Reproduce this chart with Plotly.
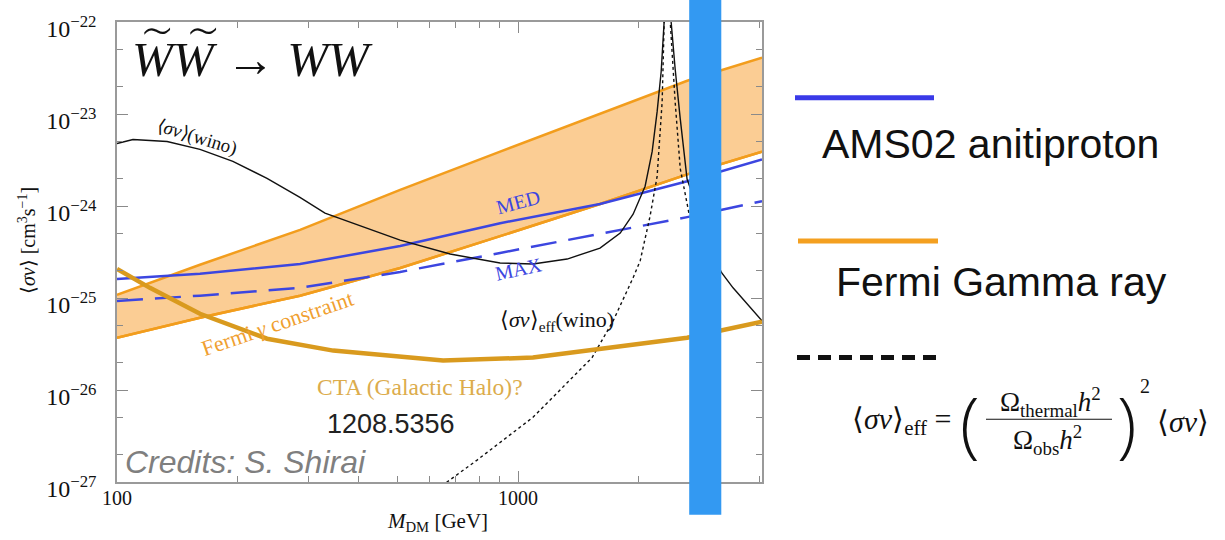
import plotly.graph_objects as go

# ---------------- data ----------------
mass_band = [100, 161, 286, 508, 902, 1600, 2640, 4055]
fermi_upper = [1.08e-25, 2.3e-25, 5.5e-25, 1.5e-24, 3.9e-24, 1.0e-23, 2.3e-23, 4.1e-23]
fermi_lower = [3.7e-26, 6.1e-26, 1.06e-25, 2.12e-25, 4.7e-25, 1.05e-24, 2.21e-24, 3.9e-24]

mass_ams = [100, 161, 286, 508, 902, 1600, 2640, 4055]
ams_med = [1.61e-25, 1.83e-25, 2.34e-25, 3.67e-25, 6.5e-25, 1.05e-24, 1.86e-24, 3.2e-24]
ams_max = [9.3e-26, 1.06e-25, 1.29e-25, 1.92e-25, 3.09e-25, 4.95e-25, 7.57e-25, 1.13e-24]

mass_wino = [100, 109.6, 133.3, 161, 194.5, 236.6, 285.8, 330, 508, 676.7, 901.6, 1089,
             1325, 1600, 1797, 1935, 2073, 2159, 2221, 2273, 2312, 2359, 2407, 2463,
             2536, 2638, 3206, 3434, 4055]
sigv_wino = [4.78e-24, 5.28e-24, 5.02e-24, 4.12e-24, 3.05e-24, 2.0e-24, 1.24e-24, 8.35e-25,
             4.26e-25, 3.01e-25, 2.40e-25, 2.34e-25, 2.65e-25, 3.49e-25, 5.08e-25, 8.15e-25,
             1.64e-24, 3.92e-24, 1.06e-23, 2.88e-23, 1.0e-22, 3.0e-21, 1.0e-22, 3.1e-23,
             8.9e-24, 1.95e-24, 1.92e-25, 1.29e-25, 5.66e-26]

mass_eff = [603, 665, 790, 1089, 1529, 1726, 1935, 2015, 2133, 2221, 2286, 2327, 2359,
            2395, 2463, 2536, 2669]
sigv_eff = [6.4e-28, 1.0e-27, 1.73e-27, 5.05e-27, 2.25e-26, 5.66e-26, 1.66e-25, 2.53e-25,
            7.76e-25, 2.1e-24, 1.36e-23, 1.0e-22, 3.0e-21, 1.0e-22, 1.36e-23, 2.56e-24, 8.15e-25]

mass_cta = [100, 120.8, 161, 214.8, 236.6, 346, 508, 650, 1089, 1600, 2638, 4055]
sigv_cta = [2.07e-25, 1.29e-25, 6.74e-26, 4.2e-26, 3.61e-26, 2.68e-26, 2.31e-26, 2.09e-26,
            2.25e-26, 2.82e-26, 3.7e-26, 5.52e-26]

wino_thermal_band = [2670, 3210]

x_tickvals = [100, 1000]
x_ticktext = ["100", "1000"]
x_minor = [200, 300, 400, 500, 600, 700, 800, 900, 2000, 3000, 4000]
y_exponents = [-27, -26, -25, -24, -23, -22]
y_tickvals = [10.0 ** e for e in y_exponents]
y_ticktext = ["10<sup>\u2212%d</sup>" % (-e) for e in y_exponents]
y_minor = [m * 10.0 ** e for e in range(-27, -22) for m in (2, 5)]

# ---------------- styling ----------------
ORANGE = "#f29d1d"
BAND = "#fbcd94"
CTA = "#d99a1e"
BLUE = "#3c46e0"
BAR = "#3399f2"
SERIF = "Liberation Serif"
SANS = "Liberation Sans"

W, H = 1225, 540
L, R, T, B = 117, 463, 20, 58
PW, PH = W - L - R, H - T - B


def px(x):
    return (x - L) / PW


def py(y):
    return (H - B - y) / PH


fig = go.Figure()

fig.add_trace(go.Scatter(x=mass_band, y=fermi_lower, mode="lines",
                         line=dict(color=ORANGE, width=2.5), showlegend=False))
fig.add_trace(go.Scatter(x=mass_band, y=fermi_upper, mode="lines", fill="tonexty",
                         fillcolor=BAND, line=dict(color=ORANGE, width=2.5), showlegend=False))
fig.add_trace(go.Scatter(x=mass_band, y=fermi_lower, mode="lines",
                         line=dict(color=ORANGE, width=2.5), showlegend=False))
fig.add_trace(go.Scatter(x=mass_ams, y=ams_med, mode="lines",
                         line=dict(color=BLUE, width=2.5), showlegend=False))
fig.add_trace(go.Scatter(x=mass_ams, y=ams_max, mode="lines",
                         line=dict(color=BLUE, width=2.5, dash="26px,12px"), showlegend=False))
fig.add_trace(go.Scatter(x=mass_wino, y=sigv_wino, mode="lines",
                         line=dict(color="#111111", width=1.4), showlegend=False))
fig.add_trace(go.Scatter(x=mass_eff, y=sigv_eff, mode="lines",
                         line=dict(color="#111111", width=1.4, dash="dot"), showlegend=False))
fig.add_trace(go.Scatter(x=mass_cta, y=sigv_cta, mode="lines",
                         line=dict(color=CTA, width=4.5), showlegend=False))

shapes = [
    dict(type="rect", xref="x", yref="paper", x0=wino_thermal_band[0], x1=wino_thermal_band[1],
         y0=py(515), y1=py(-2), fillcolor=BAR, line=dict(width=0), layer="above"),
    # legend samples
    dict(type="line", xref="paper", yref="paper", x0=px(795), x1=px(934), y0=py(96), y1=py(96),
         line=dict(color="#3a3ae8", width=5)),
    dict(type="line", xref="paper", yref="paper", x0=px(798), x1=px(938), y0=py(240), y1=py(240),
         line=dict(color="#f4a020", width=5)),
    dict(type="line", xref="paper", yref="paper", x0=px(797), x1=px(937), y0=py(357), y1=py(357),
         line=dict(color="#111111", width=5, dash="13px,8px")),
    # fraction bar
    dict(type="line", xref="paper", yref="paper", x0=px(986), x1=px(1112), y0=py(419), y1=py(419),
         line=dict(color="#111111", width=1.2)),
]

annotations = []


def ann(text, x, y, size, color="#111111", family=SERIF, angle=0, xanchor="center",
        yanchor="middle", weight=None):
    f = dict(size=size, color=color, family=family)
    if weight is not None:
        f["weight"] = weight
    annotations.append(dict(text=text, x=px(x), y=py(y), xref="paper", yref="paper",
                            showarrow=False, textangle=angle, xanchor=xanchor,
                            yanchor=yanchor, font=f))


# title
ann("<i>W</i><i>W</i> \u2192 <i>WW</i>", 130, 58, 49, xanchor="left")
ann("\u223c", 157, 30, 54, family="DejaVu Sans", weight=200)
ann("\u223c", 203, 30, 54, family="DejaVu Sans", weight=200)

ann("\u27e8<i>\u03c3v</i>\u27e9(wino)", 197, 135, 19, angle=17)
ann("MED", 518, 201, 20, color=BLUE, angle=-15)
ann("MAX", 518, 268, 20, color=BLUE, angle=-12)
ann("Fermi <i>\u03b3</i> constraint", 277, 323, 22, color="#f0a030", angle=-19)
ann("\u27e8<i>\u03c3v</i>\u27e9<sub>eff</sub>(wino)", 557, 320, 22)
ann("CTA (Galactic Halo)?", 420, 387, 23.5, color="#dcac4c")
ann("1208.5356", 391, 424, 27, color="#222222", family=SANS)
ann("<i>Credits: S. Shirai</i>", 123, 462, 32, color="#7f7f7f", family=SANS, xanchor="left")

# axis titles
ann("\u27e8<i>\u03c3v</i>\u27e9 [cm<sup>3</sup>s<sup>\u22121</sup>]", 27, 240, 20, angle=-90)
ann("<i>M</i><sub>DM</sub> [GeV]", 437, 522, 21)

# legend texts
ann("AMS02 anitiproton", 990, 143, 41, family=SANS)
ann("Fermi Gamma ray", 1001, 281, 41, family=SANS)

# formula
ann("\u27e8<i>\u03c3v</i>\u27e9<sub>eff</sub> =", 953, 421, 30, xanchor="right")
ann("(", 970, 422, 72, family="Open Sans", weight=300)
ann(")", 1127, 422, 72, family="Open Sans", weight=300)
ann("\u03a9<sub>thermal</sub><i>h</i><sup>2</sup>", 1050, 402, 27)
ann("\u03a9<sub>obs</sub><i>h</i><sup>2</sup>", 1047, 440, 27)
ann("2", 1145, 386, 20)
ann("\u27e8<i>\u03c3v</i>\u27e9", 1183, 421, 30)

axis_common = dict(showgrid=False, zeroline=False, showline=True, linecolor="#9a9a9a",
                   linewidth=1.5, mirror="allticks", ticks="inside", ticklen=11,
                   tickcolor="#8a8a8a", tickwidth=1)

fig.update_layout(
    width=W, height=H,
    margin=dict(l=L, r=R, t=T, b=B),
    paper_bgcolor="white", plot_bgcolor="white",
    xaxis=dict(type="log", range=[2, 3.608], tickvals=x_tickvals, ticktext=x_ticktext,
               ticklabelstandoff=-3,
               tickfont=dict(family=SERIF, size=20, color="#111111"),
               minor=dict(tickvals=x_minor, ticks="inside", ticklen=6, tickcolor="#8a8a8a"),
               **axis_common),
    yaxis=dict(type="log", range=[-27, -22], tickvals=y_tickvals, ticktext=y_ticktext,
               ticklabelstandoff=14, ticklabelshift=7,
               tickfont=dict(family=SERIF, size=24, color="#111111"),
               minor=dict(tickvals=y_minor, ticks="inside", ticklen=6, tickcolor="#8a8a8a"),
               **axis_common),
    shapes=shapes,
    annotations=annotations,
)

fig.write_html("out.html", config={"displayModeBar": False},
               post_script="document.documentElement.style.margin='0px';"
                           "document.body.style.margin='0px';")
